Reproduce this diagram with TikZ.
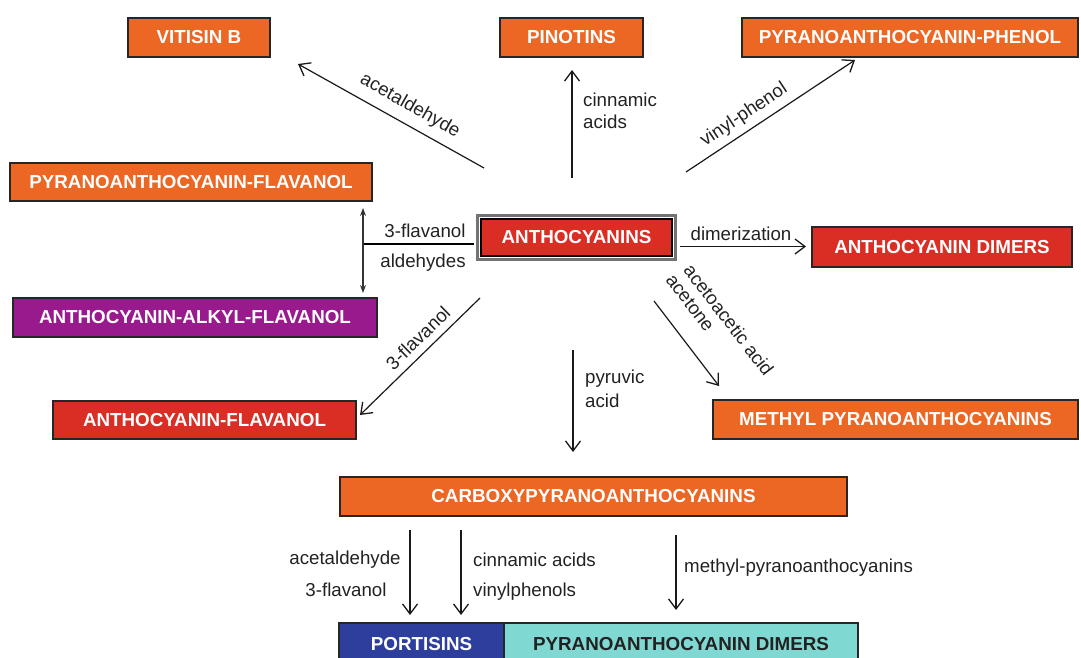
\documentclass[tikz,border=0pt]{standalone}
\usepackage{fontspec}
\setmainfont{Liberation Sans}
\usetikzlibrary{arrows.meta}
\definecolor{corange}{RGB}{236,102,36}
\definecolor{cred}{RGB}{218,46,36}
\definecolor{cpurple}{RGB}{152,26,140}
\definecolor{cblue}{RGB}{46,62,156}
\definecolor{ccyan}{RGB}{128,216,210}
\definecolor{ctext}{RGB}{34,34,34}
\begin{document}
\begin{tikzpicture}[x=1pt,y=-1pt,
  box/.style={draw=black!85, line width=1.3pt, inner sep=0pt,
    font=\fontsize{18.8}{20}\selectfont\bfseries, text=white},
  lbl/.style={font=\fontsize{18.7}{22}\selectfont, text=ctext, inner sep=0pt},
  arr/.style={line width=1.2pt, draw=black!90,
    -{Straight Barb[length=10pt,width=15pt,line width=1.3pt]}},
  dbl/.style={line width=1.2pt, draw=black!80,
    {Stealth[length=8pt,width=6pt]}-{Stealth[length=8pt,width=6pt]}},
]
\useasboundingbox (0,0) rectangle (1081,658);
\clip (0,0) rectangle (1081,658);

% boxes
\node[box, fill=corange, minimum width=142pt, minimum height=39pt] (vit) at (199,37.5) {VITISIN B};
\node[box, fill=corange, minimum width=143pt, minimum height=39pt] (pin) at (571.5,37.5) {PINOTINS};
\node[box, fill=corange, minimum width=336pt, minimum height=39pt] (pph) at (910,37.5) {PYRANOANTHOCYANIN-PHENOL};
\node[box, fill=corange, minimum width=362pt, minimum height=38pt] (pfl) at (191,182) {PYRANOANTHOCYANIN-FLAVANOL};
\node[box, fill=cred, draw=black, minimum width=191pt, minimum height=37pt] (ant) at (576.5,237.5) {ANTHOCYANINS};
\draw[black!55, line width=3pt] ([shift={(-2.5pt,-2.5pt)}]ant.south west) rectangle ([shift={(2.5pt,2.5pt)}]ant.north east);
\node[box, fill=cred, minimum width=260pt, minimum height=40pt] (dim) at (942,247) {ANTHOCYANIN DIMERS};
\node[box, fill=cpurple, minimum width=364pt, minimum height=39pt] (alk) at (195,317.5) {ANTHOCYANIN-ALKYL-FLAVANOL};
\node[box, fill=cred, minimum width=303pt, minimum height=38pt] (afl) at (204.5,420) {ANTHOCYANIN-FLAVANOL};
\node[box, fill=corange, minimum width=365pt, minimum height=39pt] (met) at (895.5,419.5) {METHYL PYRANOANTHOCYANINS};
\node[box, fill=corange, minimum width=507pt, minimum height=39pt] (car) at (593.5,496.5) {CARBOXYPYRANOANTHOCYANINS};
\node[box, fill=cblue, minimum width=165pt, minimum height=42pt] (por) at (421.5,644) {PORTISINS};
\node[box, fill=ccyan, text=ctext, minimum width=354pt, minimum height=42pt] (pdi) at (681,644) {PYRANOANTHOCYANIN DIMERS};

% connector end points
\coordinate (a1s) at (484,168); \coordinate (a1e) at (298,64);
\coordinate (a2s) at (572,178); \coordinate (a2e) at (572,70);
\coordinate (a3s) at (686,172); \coordinate (a3e) at (855,60);
\coordinate (a4s) at (680,246.5); \coordinate (a4e) at (806,246.5);
\coordinate (a5s) at (474,244); \coordinate (a5e) at (364,244);
\coordinate (a6t) at (363,208); \coordinate (a6b) at (363,293);
\coordinate (a7s) at (480,298); \coordinate (a7e) at (360,415);
\coordinate (a8s) at (654,301); \coordinate (a8e) at (719,386);
\coordinate (a9s) at (573,350); \coordinate (a9e) at (573,452);
\coordinate (b1s) at (410,530); \coordinate (b1e) at (410,615);
\coordinate (b2s) at (461,530); \coordinate (b2e) at (461,615);
\coordinate (b3s) at (676,535); \coordinate (b3e) at (676,610);

% connectors
\draw[arr] (a1s) -- (a1e);
\draw[arr] (a2s) -- (a2e);
\draw[arr] (a3s) -- (a3e);
\draw[arr] (a4s) -- (a4e);
\draw[line width=2.2pt, black] (a5s) -- (a5e);
\draw[dbl] (a6t) -- (a6b);
\draw[arr] (a7s) -- (a7e);
\draw[arr] (a8s) -- (a8e);
\draw[arr] (a9s) -- (a9e);
\draw[arr] (b1s) -- (b1e);
\draw[arr] (b2s) -- (b2e);
\draw[arr] (b3s) -- (b3e);

% labels
\node[lbl, rotate=-29.5] (l1) at (410,106) {acetaldehyde};
\node[lbl, anchor=west] (l2a) at (583,100) {cinnamic};
\node[lbl, anchor=west] (l2b) at (583,122) {acids};
\node[lbl, rotate=33.5] (l3) at (744,115) {vinyl-phenol};
\node[lbl] (l4) at (741,234) {dimerization};
\node[lbl] (l5a) at (425,231) {3-flavanol};
\node[lbl] (l5b) at (423,263) {aldehydes};
\node[lbl, rotate=44.3] (l7) at (418,338) {3-flavanol};
\node[lbl, rotate=-52.5] (l8a) at (729,320) {acetoacetic acid};
\node[lbl, rotate=-52.5] (l8b) at (690,303) {acetone};
\node[lbl, anchor=west] (l9a) at (585,379) {pyruvic};
\node[lbl, anchor=west] (l9b) at (585,401) {acid};
\node[lbl] (lb1a) at (345,560) {acetaldehyde};
\node[lbl] (lb1b) at (346,590) {3-flavanol};
\node[lbl, anchor=west] (lb2a) at (473,560) {cinnamic acids};
\node[lbl, anchor=west] (lb2b) at (473,592) {vinylphenols};
\node[lbl, anchor=west] (lb3) at (684,568) {methyl-pyranoanthocyanins};
\end{tikzpicture}
\end{document}
